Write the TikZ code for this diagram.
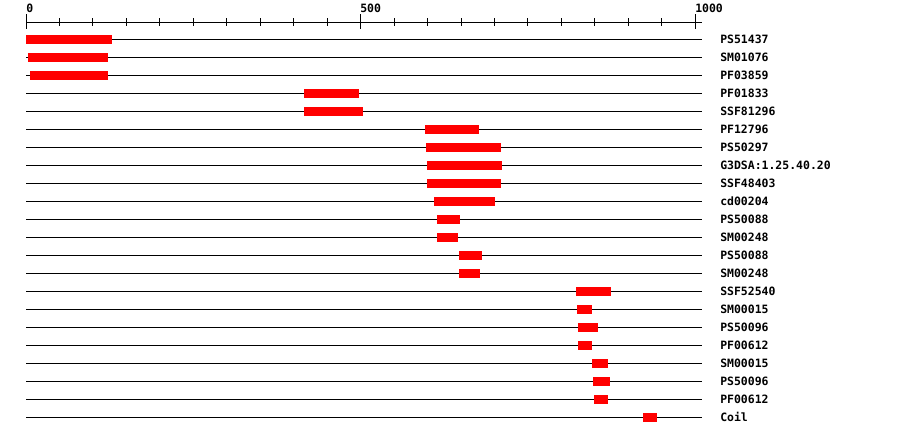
\documentclass[tikz,border=0pt]{standalone}
\usepackage{fontspec}
\newfontfamily\monofont{DejaVu Sans Mono}
\definecolor{barred}{RGB}{255,0,0}
\begin{document}
\begin{tikzpicture}[x=0.75pt,y=-0.75pt,
  rowline/.style={line width=0.75pt,black},
  axisline/.style={line width=0.75pt,black},
  bar/.style={fill=barred},
  lbl/.style={anchor=west,inner sep=0pt,font=\monofont\bfseries\fontsize{8.6pt}{10pt}\selectfont},
  ticklbl/.style={anchor=base west,inner sep=0pt,font=\monofont\bfseries\fontsize{8.6pt}{10pt}\selectfont}]
\useasboundingbox[fill=white] (0,0) rectangle (900,436);
% axis
\draw[axisline] (26,22) -- (702,22);
\foreach \i in {1,...,9,11,12,...,19} \draw[axisline] ({26+\i*33.465},18) -- ({26+\i*33.465},26);
\foreach \i in {0,10,20} \draw[axisline] ({26+\i*33.465},14) -- ({26+\i*33.465},29);
\node[ticklbl] (t0) at (26,12) {0};
\node[ticklbl] (t500) at (360,12) {500};
\node[ticklbl] (t1000) at (695,12) {1000};
% rows
\foreach \n/\a/\b/\t [count=\k from 0] in {
  r1/26/111.7/PS51437,
  r2/28/108/SM01076,
  r3/30/108/PF03859,
  r4/304/359/PF01833,
  r5/304/363/SSF81296,
  r6/425/479/PF12796,
  r7/426/501/PS50297,
  r8/427/502/G3DSA:1.25.40.20,
  r9/427/501/SSF48403,
  r10/434/495/cd00204,
  r11/437/460/PS50088,
  r12/437/458/SM00248,
  r13/459/482/PS50088,
  r14/459/480/SM00248,
  r15/576/611/SSF52540,
  r16/577/592/SM00015,
  r17/578/598/PS50096,
  r18/578/592/PF00612,
  r19/592/608/SM00015,
  r20/593/610/PS50096,
  r21/594/608/PF00612,
  r22/643/657/Coil}
{
  \pgfmathsetmacro\yy{39.3+18*\k}
  \draw[rowline] (26,\yy) -- (702,\yy);
  \fill[bar] (\a,\yy-4.5) rectangle (\b,\yy+4.5);
  \node[lbl] (\n) at (720,\yy) {\t};
}
\end{tikzpicture}
\end{document}
